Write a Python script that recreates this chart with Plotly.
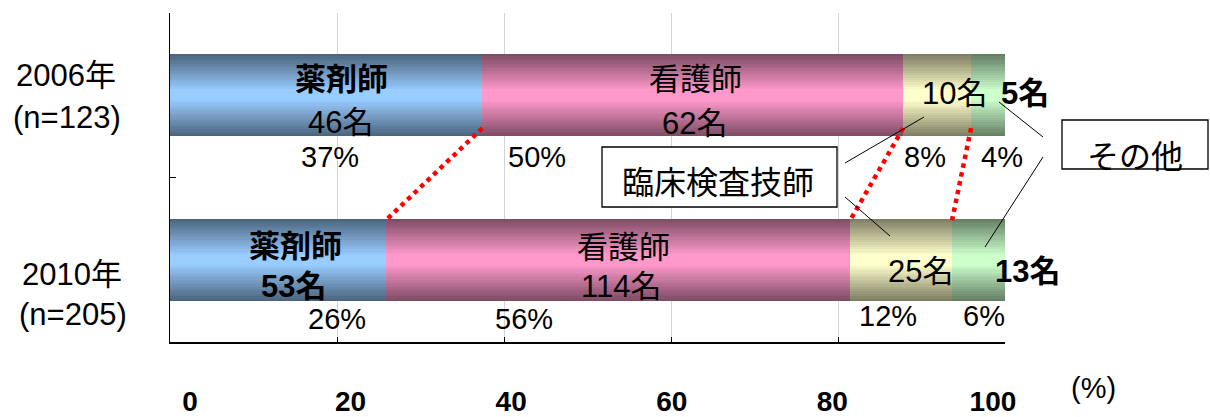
import plotly.graph_objects as go

# ---------------- data ----------------
years = ["2006年", "2010年"]
n_labels = ["(n=123)", "(n=205)"]
groups = ["薬剤師", "看護師", "臨床検査技師", "その他"]
counts_2006 = [46, 62, 10, 5]
counts_2010 = [53, 114, 25, 13]
x_ticks = [0, 20, 40, 60, 80, 100]
x_tick_text = ["0", "20", "40", "60", "80", "100"]

# ---------------- style ----------------
light = [(153, 204, 255), (255, 153, 204), (255, 255, 204), (204, 255, 204)]
dark = [(77, 102, 128), (128, 77, 102), (128, 128, 102), (102, 128, 102)]
FONT = "Liberation Sans, Noto Sans CJK JP"
L, R, T, B = 170, 1005, 13, 342   # plot area in pixels


def px(x):
    return (x - L) / (R - L)


def py(y):
    return (B - y) / (B - T)


rows = [counts_2006, counts_2010]
ypos = [1, 0]           # 2006 top, 2010 bottom
totals = [sum(r) for r in rows]
pcts = [[c / tot * 100 for c in r] for r, tot in zip(rows, totals)]
starts = []
for p in pcts:
    s, acc = [], 0
    for v in p:
        s.append(acc)
        acc += v
    starts.append(s)

ys, xs, bases, seg = [], [], [], []
for ri in range(2):
    for gi in range(4):
        ys.append(ypos[ri])
        xs.append(pcts[ri][gi])
        bases.append(starts[ri][gi])
        seg.append(gi)

fig = go.Figure()
K = 16
for k in range(K):
    t = k / (K - 1)
    hw = 0.25 - k * (0.25 - 0.035) / (K - 1)
    cols = []
    for gi in seg:
        c = tuple(round(dark[gi][j] + (light[gi][j] - dark[gi][j]) * t) for j in range(3))
        cols.append("rgb(%d,%d,%d)" % c)
    fig.add_trace(go.Bar(
        y=ys, x=xs, base=bases, orientation="h", width=2 * hw,
        marker=dict(color=cols, line=dict(width=0)),
        showlegend=False, hoverinfo="skip"))

# dummy trace for the label axis
fig.add_trace(go.Scatter(x=[0], y=[0], xaxis="x2", mode="markers",
                         marker=dict(opacity=0), showlegend=False, hoverinfo="skip"))

shapes = []
# red dotted connectors between cumulative boundaries
for gi in range(3):
    x0 = starts[0][gi + 1]
    x1 = starts[1][gi + 1]
    shapes.append(dict(type="line", xref="x", yref="y", x0=x0, y0=0.80, x1=x1, y1=0.24,
                       line=dict(color="red", width=4.5, dash="dot")))
# leader lines
for (a, b, c, d) in [(845, 163, 924, 117), (845, 197, 890, 236),
                     (1043, 137, 999, 102), (1043, 157, 985, 247)]:
    shapes.append(dict(type="line", xref="paper", yref="paper", x0=px(a), y0=py(b),
                       x1=px(c), y1=py(d), line=dict(color="black", width=1)))
# callout boxes
for (a, b, c, d) in [(602, 147, 837, 207), (1062, 120, 1208, 169)]:
    shapes.append(dict(type="rect", xref="paper", yref="paper", x0=px(a), y0=py(b),
                       x1=px(c), y1=py(d), fillcolor="white",
                       line=dict(color="black", width=1.3)))

ann = []


def add(text, x, y, size=30, bold=False):
    ann.append(dict(text=("<b>%s</b>" % text) if bold else text, xref="paper", yref="paper",
                    x=px(x), y=py(y), xanchor="center", yanchor="middle", showarrow=False,
                    font=dict(size=size, color="black", family=FONT)))


# y category labels
add(years[0], 66, 75, 31)
add(n_labels[0], 67, 117, 31)
add(years[1], 72, 274, 31)
add(n_labels[1], 73, 314, 31)

# in-bar labels
pct_txt = [["%d%%" % round(v) for v in p] for p in pcts]
add(groups[0], 341, 80, 31, True)
add("%d名" % rows[0][0], 340, 122, 31)
add(groups[1], 695, 80, 31)
add("%d名" % rows[0][1], 694, 123, 31)
add("%d名" % rows[0][2], 954, 93, 31)
add("%d名" % rows[0][3], 1025, 93, 31, True)
for txt, x in zip(pct_txt[0], [330, 537, 925, 1002]):
    add(txt, x, 157, 29)

add(groups[0], 295, 246, 31, True)
add("%d名" % rows[1][0], 293, 286, 31, True)
add(groups[1], 623, 247, 31)
add("%d名" % rows[1][1], 621, 286, 31)
add("%d名" % rows[1][2], 920, 271, 31)
add("%d名" % rows[1][3], 1027, 271, 31, True)
for txt, x, y in zip(pct_txt[1], [337, 524, 888, 984], [319, 319, 316, 316]):
    add(txt, x, y, 29)

# callout texts
add(groups[2], 718, 183, 32)
add(groups[3], 1135, 157, 32)
add("(%)", 1093, 388, 29)

fig.update_layout(
    width=1210, height=417,
    margin=dict(l=L, r=1210 - R, t=T, b=417 - B, pad=0, autoexpand=False),
    paper_bgcolor="white", plot_bgcolor="white",
    barmode="overlay", bargap=0,
    showlegend=False,
    font=dict(family=FONT, color="black"),
    xaxis=dict(range=[0, 100], tickvals=x_ticks, showticklabels=False,
               ticks="inside", ticklen=5, tickcolor="black", tickwidth=1,
               showgrid=True, gridcolor="#d4d4d4", gridwidth=1,
               showline=True, linecolor="black", linewidth=1.5, zeroline=False,
               automargin=False, fixedrange=True),
    xaxis2=dict(overlaying="x", side="bottom", range=[-2.49, 101.5],
                tickvals=x_ticks, ticktext=["<b>%s</b>" % t for t in x_tick_text],
                tickfont=dict(size=28, family=FONT, color="black"),
                ticks="", showgrid=False, showline=False, zeroline=False,
                ticklabelstandoff=40, automargin=False),
    yaxis=dict(range=[-0.5, 1.5], tickvals=[-0.5, 0.5, 1.5], showticklabels=False,
               ticks="inside", ticklen=6, tickcolor="black",
               showgrid=False, showline=True, linecolor="black", linewidth=1.5,
               zeroline=False, automargin=False),
    shapes=shapes,
    annotations=ann,
)

fig.write_html("out.html", config={"displayModeBar": False, "staticPlot": True},
               post_script="document.body.style.margin='0';document.body.style.overflow='hidden';")
